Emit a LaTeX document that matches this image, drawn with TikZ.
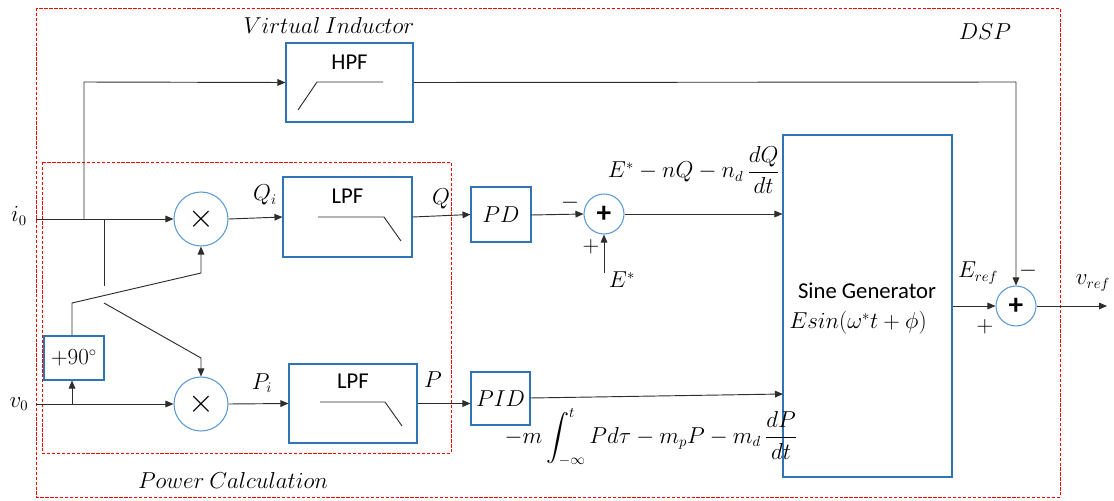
\documentclass[tikz,border=0pt]{standalone}
\usepackage{amsmath}
\usepackage{fontspec}
\setmainfont{Carlito}
\usetikzlibrary{arrows.meta}
\definecolor{boxblue}{RGB}{46,117,182}
\definecolor{circblue}{RGB}{91,155,213}
\definecolor{linegray}{RGB}{45,45,45}
\begin{document}
\begin{tikzpicture}[x=0.75pt,y=-0.75pt,
  font=\fontsize{16}{19}\selectfont,
  every path/.style={line width=0.7pt},
  wire/.style={draw=linegray},
  arr/.style={wire,-{Triangle[length=6pt,width=5pt]}},
  blk/.style={draw=boxblue,line width=0.8pt,inner sep=0pt,rectangle},
  circ/.style={draw=circblue,line width=0.8pt,circle,inner sep=0pt},
  grp/.style={draw=red,dash pattern=on 2.5pt off 1.2pt,line width=0.6pt},
  lbl/.style={inner sep=1pt},
  sans/.style={inner sep=1pt,font=\fontsize{17}{20}\selectfont},
  mult/.style={circ,minimum size=40.5pt,font=\fontsize{30}{30}\selectfont},
  summ/.style={circ,minimum size=30pt,font=\fontsize{22}{22}\selectfont\bfseries}]
\useasboundingbox (0,0) rectangle (1114,500);
% group frames
\draw[grp] (36,8) rectangle (1060,497);
\draw[grp] (42,162) rectangle (451,453);
\node[lbl] (dsp) at (985,32) {$DSP$};
\node[lbl] (vind) at (329,25) {$Virtual\ Inductor$};
\node[lbl] (pcalc) at (233,480) {$Power\ Calculation$};
% blocks
\node[blk,minimum width=95.25pt,minimum height=59.25pt] (hpf) at (349.5,82.5) {};
\node[sans] (hpft) at (349.5,62) {HPF};
\draw[wire] (298,110) -- (317,82) -- (383,82);
\node[blk,minimum width=96.75pt,minimum height=60pt] (lpf1) at (347.5,217) {};
\node[sans] (lpf1t) at (347.5,196) {LPF};
\draw[wire] (318,217) -- (384,217) -- (401,241);
\node[blk,minimum width=96pt,minimum height=59.25pt] (lpf2) at (353,403.5) {};
\node[sans] (lpf2t) at (353,381) {LPF};
\draw[wire] (320,402) -- (385,402) -- (402,426);
\node[blk,minimum width=45pt,minimum height=41.25pt] (pd) at (501,214.5) {$PD$};
\node[blk,minimum width=44.25pt,minimum height=39.75pt] (pid) at (500.5,398.5) {$PID$};
\node[blk,minimum width=126.75pt,minimum height=256.5pt] (sine) at (867.5,306) {};
\node[sans,inner sep=0pt] (sinet) at (867,291) {Sine Generator};
\node[lbl,inner sep=0pt] (sinee) at (858,323) {$Esin(\omega^{*}t+\phi)$};
\node[blk,minimum width=45pt,minimum height=33pt] (ph) at (74,358) {$+90^{\circ}$};
\node[mult] (m1) at (201,219) {$\times$};
\node[mult] (m2) at (201,404) {$\times$};
\node[summ] (s1) at (604,214) {+};
\node[summ] (s2) at (1016,306) {+};
% inputs
\node[lbl] (i0) at (19,216) {$i_0$};
\node[lbl] (v0) at (19,404) {$v_0$};
\coordinate (i0in) at (36,219);
\coordinate (v0in) at (36,404);
\coordinate (bA) at (84,219);
\coordinate (bB) at (104,219);
\coordinate (bBend) at (104,286);
\coordinate (xB) at (104,303);
\coordinate (v0b) at (72,404);
\coordinate (estar) at (604,273);
\coordinate (vout) at (1107,306);
% connectors
\draw[arr] (i0in) -- (m1.west);
\draw[arr] (bA) -- (84,82) -- (hpf.west);
\draw[arr] (hpf.east) -- (1016,82) -- (s2.north);
\draw[wire] (bB) -- (bBend);
\draw[arr] (xB) -- (201,358) -- (m2.north);
\draw[arr] (ph.north -| v0b) -- (72,303) -- (201,273) -- (m1.south);
\draw[arr] (v0in) -- (m2.west);
\draw[arr] (v0b) -- (ph.south -| v0b);
\draw[arr] (m1.east) -- (lpf1.west);
\draw[arr] (lpf1.east) -- (pd.west);
\draw[arr] (531,215) -- (s1.west);
\draw[arr] (estar) -- (s1.south);
\draw[arr] (s1.east) -- (sine.west |- s1.east);
\draw[arr] (m2.east) -- (lpf2.west);
\draw[arr] (lpf2.east) -- (pid.west |- lpf2.east);
\draw[arr] (530,398) -- (783,394);
\draw[arr] (sine.east |- s2.west) -- (s2.west);
\draw[arr] (s2.east) -- (vout);
% signal labels
\node[lbl] (qi) at (265,195) {$Q_i$};
\node[lbl] (q) at (441,199) {$Q$};
\node[lbl] (pi) at (262,383) {$P_i$};
\node[lbl] (p) at (433,380) {$P$};
\node[lbl] (s1m) at (570,203) {$-$};
\node[lbl] (s1p) at (591,247) {$+$};
\node[lbl] (es) at (622,280) {$E^{*}$};
\node[lbl] (eq) at (694,170) {$E^{*}-nQ-n_d\,\dfrac{dQ}{dt}$};
\node[lbl] (ep) at (651,437) {$-m\displaystyle\int_{-\infty}^{t}Pd\tau-m_pP-m_d\,\frac{dP}{dt}$};
\node[lbl] (eref) at (978,273) {$E_{ref}$};
\node[lbl] (s2p) at (985,327) {$+$};
\node[lbl] (s2m) at (1028,271) {$-$};
\node[lbl] (vref) at (1093,283) {$v_{ref}$};
\end{tikzpicture}
\end{document}
